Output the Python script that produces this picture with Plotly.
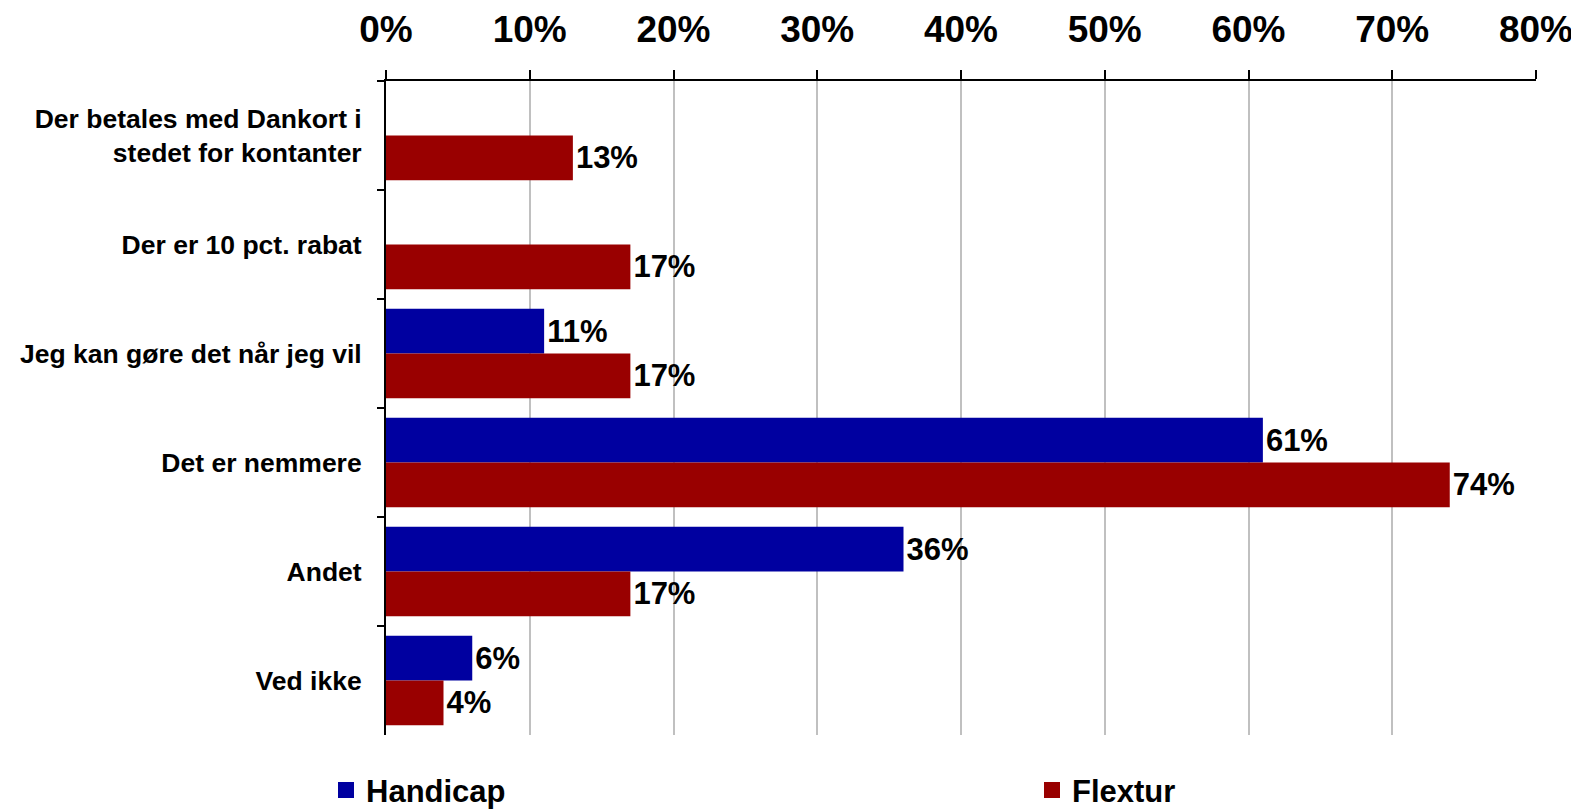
import plotly.graph_objects as go

categories = [
    "Der betales med Dankort i<br>stedet for kontanter",
    "Der er 10 pct. rabat",
    "Jeg kan gøre det når jeg vil",
    "Det er nemmere",
    "Andet",
    "Ved ikke",
]
handicap = [None, None, 0.11, 0.61, 0.36, 0.06]
flextur = [0.13, 0.17, 0.17, 0.74, 0.17, 0.04]
tick_vals = [0, 0.1, 0.2, 0.3, 0.4, 0.5, 0.6, 0.7, 0.8]

BLUE = "#0000A0"
RED = "#990000"
FONT = "Liberation Sans"


def labels(vals):
    return ["" if v is None else f"{round(v * 100)}%" for v in vals]


fig = go.Figure()
fig.add_trace(go.Bar(
    y=categories, x=handicap, orientation="h", name="Handicap",
    marker=dict(color=BLUE, line=dict(width=0)),
    text=labels(handicap), textposition="outside", cliponaxis=False,
    constraintext="none",
    textfont=dict(family=FONT, size=31, color="black", weight="bold"),
    showlegend=False,
))
fig.add_trace(go.Bar(
    y=categories, x=flextur, orientation="h", name="Flextur",
    marker=dict(color=RED, line=dict(width=0)),
    text=labels(flextur), textposition="outside", cliponaxis=False,
    constraintext="none",
    textfont=dict(family=FONT, size=31, color="black", weight="bold"),
    showlegend=False,
))
# legend entries
fig.add_trace(go.Scatter(x=[None], y=[None], mode="markers", name="Handicap",
                         legend="legend",
                         marker=dict(symbol="square", size=20, color=BLUE)))
fig.add_trace(go.Scatter(x=[None], y=[None], mode="markers", name="Flextur",
                         legend="legend2",
                         marker=dict(symbol="square", size=20, color=RED)))

legend_common = dict(
    orientation="h", yref="container", xref="container",
    y=0.033, yanchor="middle", xanchor="left",
    font=dict(family=FONT, size=31, color="black", weight="bold"),
    itemsizing="trace", bgcolor="rgba(0,0,0,0)",
)

fig.update_layout(
    width=1579, height=809,
    margin=dict(l=378, r=51, t=73, b=82, autoexpand=False),
    paper_bgcolor="white", plot_bgcolor="white",
    barmode="group", bargap=0.18, bargroupgap=0,
    font=dict(family=FONT, color="black"),
    legend=dict(legend_common, x=318 / 1579),
    legend2=dict(legend_common, x=1024 / 1579),
    xaxis=dict(
        side="top", range=[0, 0.8], tickvals=tick_vals, tickformat=".0%",
        showgrid=True, gridcolor="#C0C0C0", gridwidth=1.5,
        showline=True, linecolor="black", linewidth=2,
        ticks="outside", ticklen=9, tickwidth=2, tickcolor="black",
        ticklabelstandoff=13, automargin=False,
        tickfont=dict(family=FONT, size=37, color="black", weight="bold"),
        zeroline=False, fixedrange=True,
    ),
    yaxis=dict(
        autorange="reversed", type="category",
        showline=True, linecolor="black", linewidth=2,
        ticks="outside", ticklen=7, tickwidth=2, tickcolor="black",
        tickson="boundaries", ticklabelstandoff=17, automargin=False,
        tickfont=dict(family=FONT, size=26.5, color="black", weight="bold"),
        showgrid=False, zeroline=False, fixedrange=True,
    ),
)

fig.write_html("out.html")
